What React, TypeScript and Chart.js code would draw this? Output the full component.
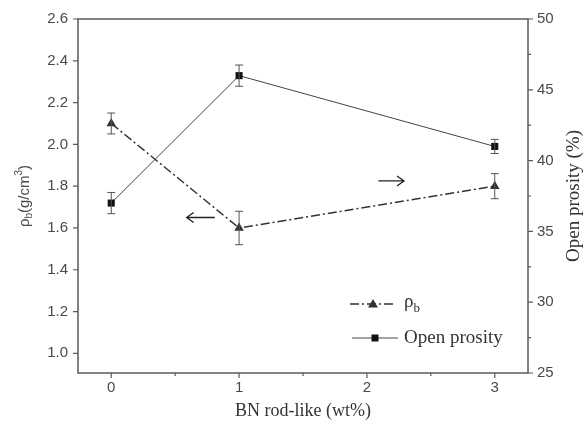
import React, { useEffect, useRef } from 'react';
import { Chart, registerables } from 'chart.js';

Chart.register(...registerables);

// ---- data ----
const xValues = [0, 1, 3];
const densityValues = [2.1, 1.6, 1.8];
const densityErrors = [0.05, 0.08, 0.06];
const porosityValues = [37.0, 46.0, 41.0];
const porosityErrors = [0.75, 0.75, 0.5];

const xTicks = [0, 1, 2, 3];
const xMinorTicks = [0.5, 1.5, 2.5];
const leftTicks = [1.0, 1.2, 1.4, 1.6, 1.8, 2.0, 2.2, 2.4, 2.6];
const rightTicks = [25, 30, 35, 40, 45, 50];
const rightMinorTicks = [27.5, 32.5, 37.5, 42.5, 47.5];

// arrows in data coords (left axis): [tailX, tipX, y]
const arrowToLeft = [0.81, 0.59, 1.65];
const arrowToRight = [2.09, 2.29, 1.825];

const legendLabels = ['ρ', 'Open prosity'];

const AXIS_COLOR = '#5a5a5a';
const TEXT_COLOR = '#4a4a4a';
const LINE_DARK = '#333333';

const decorPlugin = {
  id: 'decor',
  afterDatasetsDraw(chart: any) {
    const { ctx, scales } = chart;
    const xs = scales.x;
    const yl = scales.y;
    const yr = scales.y2;
    ctx.save();
    ctx.strokeStyle = '#555';
    ctx.lineWidth = 1;
    const cap = 4;
    const drawErr = (x: number, v: number, e: number, sc: any) => {
      const px = xs.getPixelForValue(x);
      const p1 = sc.getPixelForValue(v + e);
      const p2 = sc.getPixelForValue(v - e);
      ctx.beginPath();
      ctx.moveTo(px, p1);
      ctx.lineTo(px, p2);
      ctx.moveTo(px - cap, p1);
      ctx.lineTo(px + cap, p1);
      ctx.moveTo(px - cap, p2);
      ctx.lineTo(px + cap, p2);
      ctx.stroke();
    };
    xValues.forEach((x, i) => {
      drawErr(x, densityValues[i], densityErrors[i], yl);
      drawErr(x, porosityValues[i], porosityErrors[i], yr);
    });

    // arrows
    const drawArrow = (a: number[]) => {
      const x1 = xs.getPixelForValue(a[0]);
      const x2 = xs.getPixelForValue(a[1]);
      const y = yl.getPixelForValue(a[2]);
      const dir = x2 > x1 ? 1 : -1;
      ctx.strokeStyle = '#222';
      ctx.lineWidth = 1.3;
      ctx.beginPath();
      ctx.moveTo(x1, y);
      ctx.lineTo(x2, y);
      ctx.moveTo(x2 - dir * 7, y - 5);
      ctx.lineTo(x2, y);
      ctx.lineTo(x2 - dir * 7, y + 5);
      ctx.stroke();
    };
    drawArrow(arrowToLeft);
    drawArrow(arrowToRight);
    ctx.restore();
  },
  afterDraw(chart: any) {
    const { ctx, chartArea: a, scales } = chart;
    const xs = scales.x;
    const yl = scales.y;
    const yr = scales.y2;
    ctx.save();
    ctx.strokeStyle = AXIS_COLOR;
    ctx.lineWidth = 1.5;
    ctx.strokeRect(a.left, a.top, a.right - a.left, a.bottom - a.top);
    ctx.lineWidth = 1.2;
    ctx.beginPath();
    xTicks.forEach((v) => {
      const p = xs.getPixelForValue(v);
      ctx.moveTo(p, a.bottom);
      ctx.lineTo(p, a.bottom + 5);
    });
    xMinorTicks.forEach((v) => {
      const p = xs.getPixelForValue(v);
      ctx.moveTo(p, a.bottom);
      ctx.lineTo(p, a.bottom + 3);
    });
    leftTicks.forEach((v) => {
      const p = yl.getPixelForValue(v);
      ctx.moveTo(a.left, p);
      ctx.lineTo(a.left - 5, p);
    });
    rightTicks.forEach((v) => {
      const p = yr.getPixelForValue(v);
      ctx.moveTo(a.right, p);
      ctx.lineTo(a.right + 5, p);
    });
    rightMinorTicks.forEach((v) => {
      const p = yr.getPixelForValue(v);
      ctx.moveTo(a.right, p);
      ctx.lineTo(a.right + 3, p);
    });
    ctx.stroke();

    // left axis title: ρb(g/cm3)
    ctx.fillStyle = TEXT_COLOR;
    ctx.save();
    ctx.translate(25, (a.top + a.bottom) / 2);
    ctx.rotate(-Math.PI / 2);
    const big = '15px "Liberation Sans", Arial, sans-serif';
    const small = '10px "Liberation Sans", Arial, sans-serif';
    const parts: [string, string, number][] = [
      ['ρ', big, 0],
      ['b', small, 4],
      ['(g/cm', big, 0],
      ['3', small, -6],
      [')', big, 0],
    ];
    let total = 0;
    parts.forEach(([t, f]) => {
      ctx.font = f;
      total += ctx.measureText(t).width;
    });
    let cx = -total / 2;
    ctx.textBaseline = 'middle';
    ctx.textAlign = 'left';
    parts.forEach(([t, f, dy]) => {
      ctx.font = f;
      ctx.fillText(t, cx, dy);
      cx += ctx.measureText(t).width;
    });
    ctx.restore();

    // right axis title
    ctx.save();
    ctx.translate(574, (a.top + a.bottom) / 2);
    ctx.rotate(-Math.PI / 2);
    ctx.font = '19px "Liberation Serif", "Times New Roman", serif';
    ctx.textAlign = 'center';
    ctx.textBaseline = 'middle';
    ctx.fillStyle = '#333';
    ctx.fillText('Open prosity (%)', 0, 0);
    ctx.restore();

    // legend
    const lx1 = a.left + 272;
    const lx2 = a.left + 318;
    const lmid = (lx1 + lx2) / 2;
    const row1 = a.top + 285;
    const row2 = a.top + 319;
    ctx.strokeStyle = LINE_DARK;
    ctx.lineWidth = 1.5;
    ctx.setLineDash([9, 3, 2, 3]);
    ctx.beginPath();
    ctx.moveTo(lx1, row1);
    ctx.lineTo(lx2, row1);
    ctx.stroke();
    ctx.setLineDash([]);
    ctx.fillStyle = LINE_DARK;
    ctx.beginPath();
    ctx.moveTo(lmid, row1 - 5);
    ctx.lineTo(lmid + 5, row1 + 3.5);
    ctx.lineTo(lmid - 5, row1 + 3.5);
    ctx.closePath();
    ctx.fill();

    ctx.strokeStyle = '#444';
    ctx.lineWidth = 1;
    ctx.beginPath();
    ctx.moveTo(lx1 + 2, row2);
    ctx.lineTo(lx2 + 2, row2);
    ctx.stroke();
    ctx.fillStyle = '#111';
    ctx.fillRect(lmid + 2 - 3.5, row2 - 3.5, 7, 7);

    ctx.fillStyle = '#333';
    ctx.textAlign = 'left';
    ctx.textBaseline = 'middle';
    ctx.font = '19px "Liberation Serif", "Times New Roman", serif';
    const tx = lx2 + 8;
    ctx.fillText(legendLabels[0], tx, row1 - 2);
    const w = ctx.measureText(legendLabels[0]).width;
    ctx.font = '13px "Liberation Serif", "Times New Roman", serif';
    ctx.fillText('b', tx + w, row1 + 5);
    ctx.font = '19px "Liberation Serif", "Times New Roman", serif';
    ctx.fillText(legendLabels[1], tx, row2);
    ctx.restore();
  },
};

export default function App() {
  const ref = useRef<HTMLCanvasElement | null>(null);
  useEffect(() => {
    if (!ref.current) return;
    const chart = new Chart(ref.current, {
      type: 'line',
      data: {
        datasets: [
          {
            label: 'ρb',
            data: xValues.map((x, i) => ({ x, y: densityValues[i] })),
            yAxisID: 'y',
            borderColor: LINE_DARK,
            backgroundColor: LINE_DARK,
            borderWidth: 1.5,
            borderDash: [9, 3, 2, 3],
            pointStyle: 'triangle',
            pointRadius: 5.5,
            pointBorderWidth: 0,
            pointBackgroundColor: LINE_DARK,
            tension: 0,
          },
          {
            label: 'Open prosity',
            data: xValues.map((x, i) => ({ x, y: porosityValues[i] })),
            yAxisID: 'y2',
            borderColor: '#444',
            backgroundColor: '#111',
            borderWidth: 1,
            pointStyle: 'rect',
            pointRadius: 5,
            pointBorderWidth: 0,
            pointBackgroundColor: '#111',
            tension: 0,
          },
        ],
      },
      options: {
        animation: false,
        responsive: false,
        layout: { padding: { top: 13, left: 0, right: 0, bottom: 0 }, autoPadding: false },
        plugins: { legend: { display: false }, tooltip: { enabled: false } },
        scales: {
          x: {
            type: 'linear',
            min: -0.26,
            max: 3.26,
            afterBuildTicks: (s: any) => {
              s.ticks = xTicks.map((v) => ({ value: v }));
            },
            afterFit: (s: any) => {
              s.height = 63;
            },
            grid: { display: false, drawTicks: false },
            border: { display: false },
            ticks: {
              padding: 6,
              color: TEXT_COLOR,
              font: { family: '"Liberation Sans", Arial, sans-serif', size: 15 },
              callback: (v: any) => String(v),
            },
            title: {
              display: true,
              text: 'BN rod-like (wt%)',
              color: '#333',
              font: { family: '"Liberation Serif", "Times New Roman", serif', size: 18 },
              padding: { top: 0, bottom: 14 },
            },
          },
          y: {
            type: 'linear',
            position: 'left',
            min: 0.906,
            max: 2.6,
            afterBuildTicks: (s: any) => {
              s.ticks = leftTicks.map((v) => ({ value: v }));
            },
            afterFit: (s: any) => {
              s.width = 78;
            },
            grid: { display: false, drawTicks: false },
            border: { display: false },
            ticks: {
              padding: 10,
              color: TEXT_COLOR,
              font: { family: '"Liberation Sans", Arial, sans-serif', size: 15 },
              callback: (v: any) => Number(v).toFixed(1),
            },
          },
          y2: {
            type: 'linear',
            position: 'right',
            min: 25,
            max: 50,
            afterBuildTicks: (s: any) => {
              s.ticks = rightTicks.map((v) => ({ value: v }));
            },
            afterFit: (s: any) => {
              s.width = 60;
            },
            grid: { display: false, drawTicks: false },
            border: { display: false },
            ticks: {
              padding: 9,
              color: TEXT_COLOR,
              font: { family: '"Liberation Sans", Arial, sans-serif', size: 15 },
              callback: (v: any) => String(v),
            },
          },
        },
      },
      plugins: [decorPlugin],
    } as any);
    return () => chart.destroy();
  }, []);
  return (
    <div style={{ position: 'fixed', left: 0, top: 0, width: 588, height: 436, background: '#fff' }}>
      <canvas ref={ref} width={588} height={436} />
    </div>
  );
}
